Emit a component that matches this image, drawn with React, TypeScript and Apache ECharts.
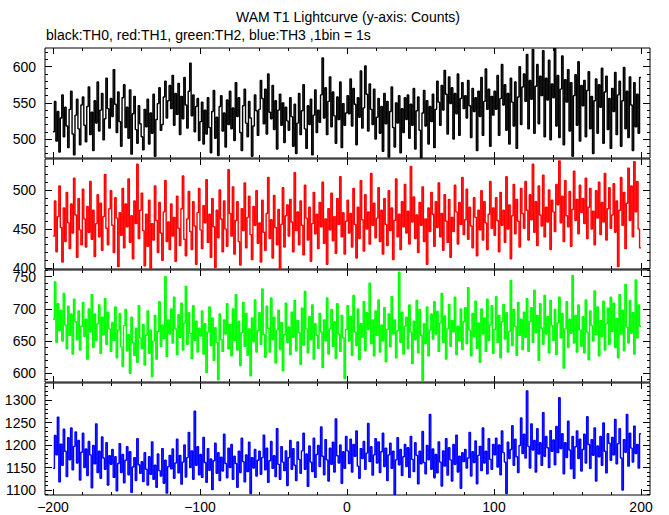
import React, { useEffect, useRef } from "react";
import * as echarts from "echarts";

// ---- data (counts per 1 s bin, bins start at -200 s) ----
const BIN_START = -200;
const BIN_WIDTH = 1;

const TH0 = [
  510, 552, 497, 538, 482, 529, 561, 503, 544, 518, 488, 541, 566, 507, 478, 533, 555, 514, 492, 547,
  558, 519, 496, 545, 572, 506, 537, 484, 553, 522, 579, 511, 540, 563, 499, 528, 584, 542, 515, 556,
  531, 596, 548, 509, 565, 524, 490, 557, 575, 516, 544, 501, 568, 479, 535, 559, 513, 494, 546, 521,
  503, 485, 541, 517, 555, 493, 536, 508, 562, 476, 527, 549, 571, 512, 520, 558, 580, 529, 553, 574,
  542, 588, 519, 563, 534, 577, 506, 559, 528, 585, 547, 515, 566, 605, 532, 561, 510, 545, 556, 498,
  524, 551, 493, 540, 507, 557, 516, 481, 538, 567, 501, 530, 477, 545, 560, 511, 536, 489, 554, 520,
  566, 514, 543, 498, 578, 531, 557, 509, 484, 546, 569, 522, 503, 552, 529, 476, 518, 561, 539, 505,
  541, 581, 556, 521, 569, 507, 590, 537, 528, 574, 513, 553, 486, 540, 562, 519, 550, 495, 544, 525,
  512, 557, 531, 490, 548, 480, 522, 563, 506, 539, 575, 514, 487, 546, 520, 555, 478, 533, 568, 509,
  540, 523, 561, 612, 529, 571, 506, 552, 586, 517, 565, 532, 494, 558, 527, 579, 488, 549, 519, 536,
  560, 535, 583, 518, 570, 548, 492, 557, 530, 594, 515, 543, 601, 562, 511, 576, 541, 520, 569, 500,
  530, 556, 508, 545, 483, 563, 521, 552, 475, 538, 572, 516, 489, 550, 522, 560, 481, 542, 509, 557,
  527, 561, 501, 548, 519, 570, 486, 539, 558, 512, 474, 536, 567, 518, 553, 493, 545, 524, 562, 488,
  541, 580, 551, 519, 574, 540, 595, 562, 507, 586, 549, 571, 500, 563, 535, 590, 505, 556, 578, 542,
  560, 529, 581, 546, 502, 570, 538, 557, 484, 566, 531, 585, 505, 552, 597, 541, 569, 490, 559, 533,
  566, 541, 588, 505, 556, 603, 547, 575, 512, 563, 493, 584, 551, 518, 579, 487, 558, 600, 520, 572,
  590, 552, 617, 514, 581, 555, 624, 508, 573, 603, 521, 587, 560, 622, 503, 584, 554, 609, 499, 576,
  557, 625, 518, 588, 502, 569, 615, 492, 582, 551, 596, 511, 578, 476, 560, 589, 519, 607, 497, 574,
  546, 581, 503, 567, 593, 514, 559, 480, 553, 583, 508, 575, 544, 598, 494, 565, 587, 513, 556, 487,
  570, 538, 592, 506, 561, 580, 490, 553, 599, 514, 566, 502, 586, 547, 484, 578, 517, 562, 508, 585,
];

const TH1 = [
  441, 486, 421, 466, 505, 452, 408, 477, 434, 497, 458, 425, 482, 445, 515, 468, 414, 489, 449, 430,
  501, 463, 427, 479, 446, 511, 437, 474, 415, 457, 494, 440, 483, 423, 466, 520, 451, 430, 476, 499,
  455, 420, 490, 464, 402, 471, 442, 502, 426, 482, 453, 514, 433, 467, 412, 486, 457, 533, 438, 474,
  496, 448, 403, 469, 428, 487, 400, 457, 436, 505, 461, 420, 484, 445, 410, 472, 512, 434, 459, 424,
  482, 441, 465, 409, 492, 451, 429, 476, 518, 437, 416, 463, 498, 447, 424, 485, 454, 405, 471, 502,
  449, 425, 480, 458, 513, 433, 469, 414, 489, 453, 401, 474, 439, 500, 463, 421, 486, 450, 428, 526,
  470, 441, 504, 418, 461, 485, 434, 404, 476, 448, 509, 426, 465, 492, 443, 411, 479, 455, 499, 432,
  458, 408, 487, 446, 423, 470, 516, 438, 462, 413, 493, 452, 430, 475, 399, 456, 503, 427, 467, 481,
  441, 488, 459, 421, 522, 448, 472, 430, 486, 455, 417, 506, 464, 436, 478, 409, 457, 497, 444, 469,
  425, 484, 453, 510, 432, 463, 405, 476, 449, 496, 435, 466, 419, 489, 456, 517, 440, 471, 418, 460,
  487, 445, 470, 427, 502, 456, 413, 478, 438, 512, 462, 422, 494, 450, 472, 431, 521, 455, 483, 439,
  464, 503, 434, 474, 418, 489, 456, 429, 499, 448, 477, 411, 461, 514, 440, 469, 424, 485, 453, 507,
  445, 473, 431, 530, 459, 491, 438, 468, 420, 484, 455, 504, 434, 463, 405, 477, 447, 497, 469, 428,
  485, 452, 509, 440, 470, 423, 494, 460, 433, 488, 414, 465, 447, 506, 472, 431, 484, 456, 516, 443,
  462, 501, 437, 478, 454, 426, 490, 465, 416, 474, 449, 499, 436, 485, 458, 424, 469, 511, 451, 477,
  442, 490, 461, 421, 497, 455, 474, 433, 517, 450, 481, 412, 467, 507, 444, 488, 460, 427, 502, 470,
  451, 511, 474, 436, 494, 462, 533, 446, 485, 429, 505, 468, 454, 519, 440, 478, 459, 500, 424, 487,
  472, 447, 507, 481, 537, 458, 492, 434, 512, 467, 453, 498, 428, 475, 524, 461, 488, 444, 506, 471,
  489, 457, 515, 438, 478, 502, 450, 473, 430, 499, 464, 510, 443, 484, 459, 521, 436, 476, 503, 451,
  468, 508, 446, 486, 402, 474, 516, 455, 497, 425, 483, 528, 461, 505, 440, 536, 472, 511, 450, 426,
];

const TH2 = [
  684, 742, 648, 708, 666, 698, 650, 724, 675, 638, 704, 659, 692, 630, 715, 680, 652, 697, 636, 673,
  710, 657, 684, 622, 700, 664, 722, 640, 692, 651, 677, 706, 631, 687, 660, 716, 645, 695, 669, 634,
  679, 651, 703, 624, 667, 693, 641, 611, 674, 699, 635, 660, 600, 687, 648, 628, 670, 617, 705, 655,
  638, 676, 613, 659, 697, 631, 667, 595, 650, 690, 622, 665, 711, 642, 675, 654, 750, 626, 683, 661,
  700, 647, 718, 669, 629, 691, 656, 709, 636, 678, 735, 645, 694, 662, 623, 705, 651, 681, 633, 670,
  658, 697, 630, 677, 601, 664, 703, 643, 686, 620, 671, 648, 590, 692, 652, 634, 683, 661, 708, 638,
  676, 627, 700, 651, 722, 636, 681, 612, 663, 710, 642, 693, 628, 669, 596, 686, 649, 714, 633, 666,
  694, 645, 731, 660, 625, 704, 670, 633, 717, 652, 687, 616, 667, 698, 637, 679, 604, 660, 709, 648,
  672, 629, 695, 656, 713, 635, 682, 663, 614, 701, 644, 727, 669, 632, 688, 652, 706, 622, 677, 659,
  639, 693, 664, 609, 683, 650, 717, 630, 669, 699, 642, 680, 623, 708, 661, 634, 690, 655, 592, 668,
  705, 650, 688, 628, 721, 664, 643, 700, 621, 677, 656, 711, 635, 694, 668, 740, 646, 683, 627, 697,
  659, 714, 633, 675, 650, 702, 618, 668, 692, 641, 719, 661, 683, 624, 666, 757, 648, 695, 630, 673,
  687, 638, 706, 664, 615, 681, 652, 713, 632, 699, 659, 589, 677, 646, 703, 627, 667, 692, 653, 711,
  661, 696, 634, 678, 724, 648, 689, 622, 669, 707, 642, 682, 664, 718, 629, 673, 650, 700, 637, 680,
  702, 646, 733, 667, 627, 693, 657, 712, 639, 678, 617, 700, 661, 686, 634, 715, 651, 675, 705, 631,
  668, 719, 648, 690, 624, 680, 707, 653, 694, 633, 665, 744, 643, 699, 673, 628, 710, 659, 684, 637,
  695, 656, 716, 634, 680, 702, 648, 729, 663, 690, 620, 708, 670, 645, 721, 661, 688, 632, 713, 674,
  651, 699, 629, 678, 718, 655, 693, 608, 669, 711, 640, 684, 662, 752, 647, 690, 633, 706, 667, 642,
  688, 632, 714, 664, 621, 697, 674, 650, 728, 660, 703, 627, 682, 657, 712, 636, 677, 701, 645, 718,
  665, 709, 640, 685, 624, 722, 661, 698, 635, 738, 672, 647, 713, 662, 694, 630, 745, 655, 706, 673,
];

const TH3 = [
  1148, 1221, 1178, 1262, 1118, 1202, 1155, 1235, 1186, 1130, 1216, 1167, 1238, 1145, 1197, 1229, 1160, 1210, 1122, 1184,
  1226, 1150, 1191, 1132, 1208, 1178, 1105, 1199, 1158, 1247, 1139, 1186, 1126, 1218, 1171, 1146, 1205, 1111, 1176, 1157,
  1190, 1128, 1174, 1098, 1159, 1203, 1139, 1179, 1116, 1166, 1196, 1134, 1185, 1095, 1151, 1172, 1121, 1214, 1156, 1137,
  1163, 1119, 1183, 1146, 1111, 1174, 1135, 1207, 1124, 1155, 1106, 1180, 1143, 1131, 1192, 1115, 1166, 1093, 1152, 1177,
  1147, 1191, 1126, 1160, 1213, 1138, 1177, 1113, 1162, 1200, 1129, 1172, 1228, 1150, 1187, 1124, 1275, 1155, 1196, 1134,
  1179, 1128, 1217, 1161, 1117, 1192, 1144, 1169, 1101, 1165, 1204, 1137, 1183, 1121, 1173, 1142, 1224, 1159, 1127, 1193,
  1150, 1201, 1124, 1175, 1159, 1106, 1186, 1139, 1215, 1163, 1118, 1178, 1141, 1206, 1092, 1172, 1149, 1190, 1131, 1166,
  1186, 1135, 1172, 1222, 1145, 1193, 1117, 1165, 1208, 1148, 1176, 1130, 1236, 1157, 1124, 1196, 1162, 1143, 1187, 1110,
  1172, 1210, 1146, 1192, 1155, 1121, 1207, 1168, 1137, 1187, 1226, 1146, 1180, 1108, 1198, 1162, 1141, 1215, 1128, 1179,
  1199, 1152, 1240, 1175, 1134, 1212, 1167, 1120, 1193, 1157, 1206, 1140, 1258, 1176, 1160, 1200, 1115, 1185, 1148, 1219,
  1187, 1159, 1213, 1140, 1201, 1175, 1231, 1153, 1126, 1192, 1170, 1208, 1146, 1182, 1248, 1163, 1196, 1133, 1178, 1214,
  1160, 1207, 1139, 1185, 1226, 1152, 1193, 1121, 1178, 1204, 1148, 1186, 1090, 1167, 1216, 1156, 1190, 1132, 1174, 1201,
  1152, 1194, 1128, 1219, 1168, 1141, 1205, 1177, 1114, 1186, 1158, 1230, 1161, 1136, 1199, 1167, 1268, 1146, 1191, 1127,
  1179, 1138, 1207, 1162, 1109, 1187, 1153, 1214, 1133, 1194, 1167, 1120, 1201, 1157, 1222, 1140, 1175, 1104, 1183, 1163,
  1190, 1149, 1171, 1228, 1131, 1185, 1161, 1209, 1114, 1177, 1197, 1143, 1238, 1160, 1186, 1136, 1214, 1168, 1146, 1201,
  1178, 1215, 1151, 1200, 1134, 1231, 1183, 1162, 1092, 1206, 1170, 1190, 1243, 1155, 1213, 1174, 1139, 1199, 1260, 1181,
  1224, 1171, 1320, 1197, 1149, 1247, 1189, 1210, 1140, 1236, 1180, 1205, 1155, 1272, 1175, 1219, 1194, 1150, 1232, 1186,
  1211, 1156, 1241, 1183, 1305, 1192, 1225, 1136, 1205, 1172, 1253, 1189, 1147, 1219, 1126, 1196, 1231, 1170, 1213, 1142,
  1190, 1224, 1160, 1263, 1201, 1148, 1212, 1177, 1238, 1120, 1198, 1174, 1219, 1155, 1249, 1186, 1138, 1225, 1204, 1166,
  1217, 1178, 1257, 1158, 1203, 1236, 1171, 1100, 1212, 1184, 1268, 1153, 1226, 1193, 1162, 1242, 1181, 1201, 1149, 1225,
];

// ---- axes ----
const X_MIN = -205.4;
const X_MAX = 206.1;
const X_LABEL_TICKS = [-200, -100, 0, 100, 200];
const X_MINOR_STEP = 20;

const Y_MIN = [473.7, 399.0, 586.5, 1088.9];
const Y_MAX = [625.9, 539.6, 760.4, 1337.8];
const Y_LABEL_TICKS = [
  [500, 550, 600],
  [400, 450, 500],
  [600, 650, 700, 750],
  [1100, 1150, 1200, 1250, 1300],
];
const Y_MINOR_STEP = 10;

const SERIES_NAMES = ["TH0", "TH1", "TH2", "TH3"];
const SERIES_COLORS = ["#000000", "#ff0000", "#00ff00", "#0000ff"];
const SERIES_DATA = [TH0, TH1, TH2, TH3];

const TITLE = "WAM T1 Lightcurve (y-axis: Counts)";
const SUBTITLE = "black:TH0, red:TH1, green:TH2, blue:TH3 ,1bin = 1s";

const FONT = "'Liberation Sans', Arial, Helvetica, sans-serif";

function stepsWithin(min: number, max: number, step: number): number[] {
  const out: number[] = [];
  for (let v = Math.ceil(min / step) * step; v <= max; v += step) out.push(v);
  return out;
}

function buildOption() {
  const tops = [48, 159, 270, 383];
  const heights = [110, 110, 112, 112];
  const grid: any[] = [];
  const xAxis: any[] = [];
  const yAxis: any[] = [];
  const series: any[] = [];
  const xMinor = stepsWithin(X_MIN, X_MAX, X_MINOR_STEP);
  const minus = (v: number) => String(v).replace("-", "\u2212");
  const tickStyle = { color: "#000", width: 1 };

  for (let i = 0; i < 4; i++) {
    grid.push({
      left: 45,
      width: 605,
      top: tops[i],
      height: heights[i],
      show: true,
      borderColor: "#000",
      borderWidth: 1,
      backgroundColor: "transparent",
    });
    const xc = {
      type: "value",
      gridIndex: i,
      min: X_MIN,
      max: X_MAX,
      splitLine: { show: false },
      axisLine: { show: false, onZero: false },
    };
    xAxis.push({
      ...xc,
      position: "bottom",
      axisTick: { show: true, inside: true, length: 6, customValues: X_LABEL_TICKS, lineStyle: tickStyle },
      axisLabel: {
        show: i === 3,
        customValues: X_LABEL_TICKS,
        formatter: (v: number) => minus(v),
        color: "#000",
        fontSize: 14,
        fontFamily: FONT,
        margin: 5,
      },
    });
    xAxis.push({
      ...xc,
      position: "bottom",
      axisTick: { show: true, inside: true, length: 3, customValues: xMinor, lineStyle: tickStyle },
      axisLabel: { show: false },
    });
    xAxis.push({
      ...xc,
      position: "top",
      axisTick: { show: true, inside: true, length: 6, customValues: X_LABEL_TICKS, lineStyle: tickStyle },
      axisLabel: { show: false },
    });
    xAxis.push({
      ...xc,
      position: "top",
      axisTick: { show: true, inside: true, length: 3, customValues: xMinor, lineStyle: tickStyle },
      axisLabel: { show: false },
    });

    const yMinor = stepsWithin(Y_MIN[i], Y_MAX[i], Y_MINOR_STEP);
    const yc = {
      type: "value",
      gridIndex: i,
      min: Y_MIN[i],
      max: Y_MAX[i],
      splitLine: { show: false },
      axisLine: { show: false, onZero: false },
    };
    yAxis.push({
      ...yc,
      position: "left",
      axisTick: { show: true, inside: true, length: 7, customValues: Y_LABEL_TICKS[i], lineStyle: tickStyle },
      axisLabel: {
        show: true,
        customValues: Y_LABEL_TICKS[i],
        formatter: (v: number) => String(v),
        color: "#000",
        fontSize: 14,
        fontFamily: FONT,
        margin: 9,
      },
    });
    yAxis.push({
      ...yc,
      position: "left",
      axisTick: { show: true, inside: true, length: 3, customValues: yMinor, lineStyle: tickStyle },
      axisLabel: { show: false },
    });
    yAxis.push({
      ...yc,
      position: "right",
      axisTick: { show: true, inside: true, length: 7, customValues: Y_LABEL_TICKS[i], lineStyle: tickStyle },
      axisLabel: { show: false },
    });
    yAxis.push({
      ...yc,
      position: "right",
      axisTick: { show: true, inside: true, length: 3, customValues: yMinor, lineStyle: tickStyle },
      axisLabel: { show: false },
    });

    const values = SERIES_DATA[i];
    const pts: [number, number][] = values.map((v, k) => [BIN_START + k * BIN_WIDTH, v]);
    pts.push([BIN_START + values.length * BIN_WIDTH, values[values.length - 1]]);
    series.push({
      name: SERIES_NAMES[i],
      type: "line",
      xAxisIndex: i * 4,
      yAxisIndex: i * 4,
      data: pts,
      step: "end",
      showSymbol: false,
      symbol: "none",
      lineStyle: { color: SERIES_COLORS[i], width: 1.4 },
      itemStyle: { color: SERIES_COLORS[i] },
      clip: true,
      z: 1,
    });
  }

  return {
    animation: false,
    backgroundColor: "#ffffff",
    grid,
    xAxis,
    yAxis,
    series,
    graphic: [
      {
        type: "text",
        x: 348,
        y: 17,
        style: {
          text: TITLE,
          fill: "#000",
          font: `14px ${FONT}`,
          textAlign: "center",
          textVerticalAlign: "middle",
        },
      },
      {
        type: "text",
        x: 46,
        y: 35,
        style: {
          text: SUBTITLE,
          fill: "#000",
          font: `14px ${FONT}`,
          textAlign: "left",
          textVerticalAlign: "middle",
        },
      },
    ],
  };
}

export default function App() {
  const ref = useRef<HTMLDivElement>(null);
  useEffect(() => {
    if (!ref.current) return;
    const chart = echarts.init(ref.current, undefined, { renderer: "svg" });
    chart.setOption(buildOption() as any);
    return () => chart.dispose();
  }, []);
  return (
    <div
      ref={ref}
      style={{ position: "fixed", left: 0, top: 0, width: 669, height: 515, background: "#fff" }}
    />
  );
}
